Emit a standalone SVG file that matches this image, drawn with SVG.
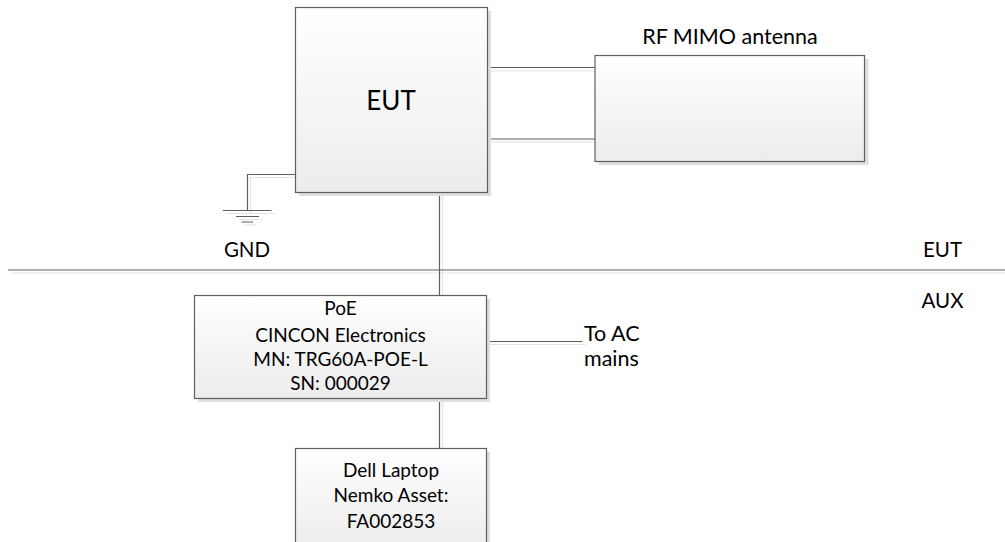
<svg xmlns="http://www.w3.org/2000/svg" width="1005" height="542" viewBox="0 0 1005 542">
<defs>
<linearGradient id="boxfill" x1="0" y1="0" x2="0" y2="1">
<stop offset="0" stop-color="#ffffff"/>
<stop offset="1" stop-color="#ececec"/>
</linearGradient>
</defs>
<style>
.box{fill:url(#boxfill);stroke:#5f5f5f;stroke-width:1.2}
.shadow{fill:#dedede;stroke:none}
.wire{fill:none;stroke:#5f5f5f;stroke-width:1.2}
.wsh{fill:none;stroke:#e3e3e3;stroke-width:1.2}
text{font-family:Lato,"Liberation Sans",sans-serif;fill:#000;text-anchor:middle}
.t{font-size:19px}
.m{font-size:20.5px}
.l{font-size:21.5px}
.big{font-size:26px}
</style>
<g id="connectors">
<path class="wsh" d="M490 71H598M490 142H598M442.5 195.5V298.5M442.5 401.5V451.5M489.5 344.5H585.5M298 177.5H250.5V213.5M11 273H1005"/>
<path class="wsh" d="M226 213.5H274.5M239 219.5H262M244.5 225H256"/>
<path class="wire" d="M487 67.5H595M487 139H595M439.5 192.5V295.5M439.5 398.5V448.5M486.5 341.5H582.5M295.5 174.5H247.5V210.5M8 270H1005"/>
<path class="wire" d="M223 210.5H271.5M236 216.5H259M241.5 222H253"/>
</g>
<g id="eut">
<rect class="shadow" x="299" y="11" width="192" height="185"/>
<rect class="box" x="295.5" y="7.5" width="192" height="185"/>
<text class="big" x="391" y="110">EUT</text>
</g>
<g id="antenna">
<rect class="shadow" x="598.5" y="59" width="270" height="106"/>
<rect class="box" x="595" y="55.5" width="269.5" height="106"/>
<text class="l" x="730" y="44">RF MIMO antenna</text>
</g>
<g id="poe">
<rect class="shadow" x="198" y="299" width="292" height="103"/>
<rect class="box" x="194.5" y="295.5" width="292" height="103"/>
<text class="t" x="340.5" y="315">PoE</text>
<text class="t" x="340.5" y="341.5">CINCON Electronics</text>
<text class="t" x="340.5" y="366">MN: TRG60A-POE-L</text>
<text class="t" x="340.5" y="390">SN: 000029</text>
</g>
<g id="laptop">
<rect class="shadow" x="299" y="452" width="191" height="100"/>
<rect class="box" x="295.5" y="448.5" width="191" height="100"/>
<text class="t" x="391" y="477">Dell Laptop</text>
<text class="t" x="391" y="502">Nemko Asset:</text>
<text class="t" x="391" y="528">FA002853</text>
</g>
<g id="labels">
<text class="m" x="247" y="257">GND</text>
<text class="m" x="942.5" y="257">EUT</text>
<text class="m" x="942.5" y="308">AUX</text>
<text class="l" x="584" y="341" style="text-anchor:start">To AC</text>
<text class="l" x="584" y="366" style="text-anchor:start">mains</text>
</g>
</svg>
